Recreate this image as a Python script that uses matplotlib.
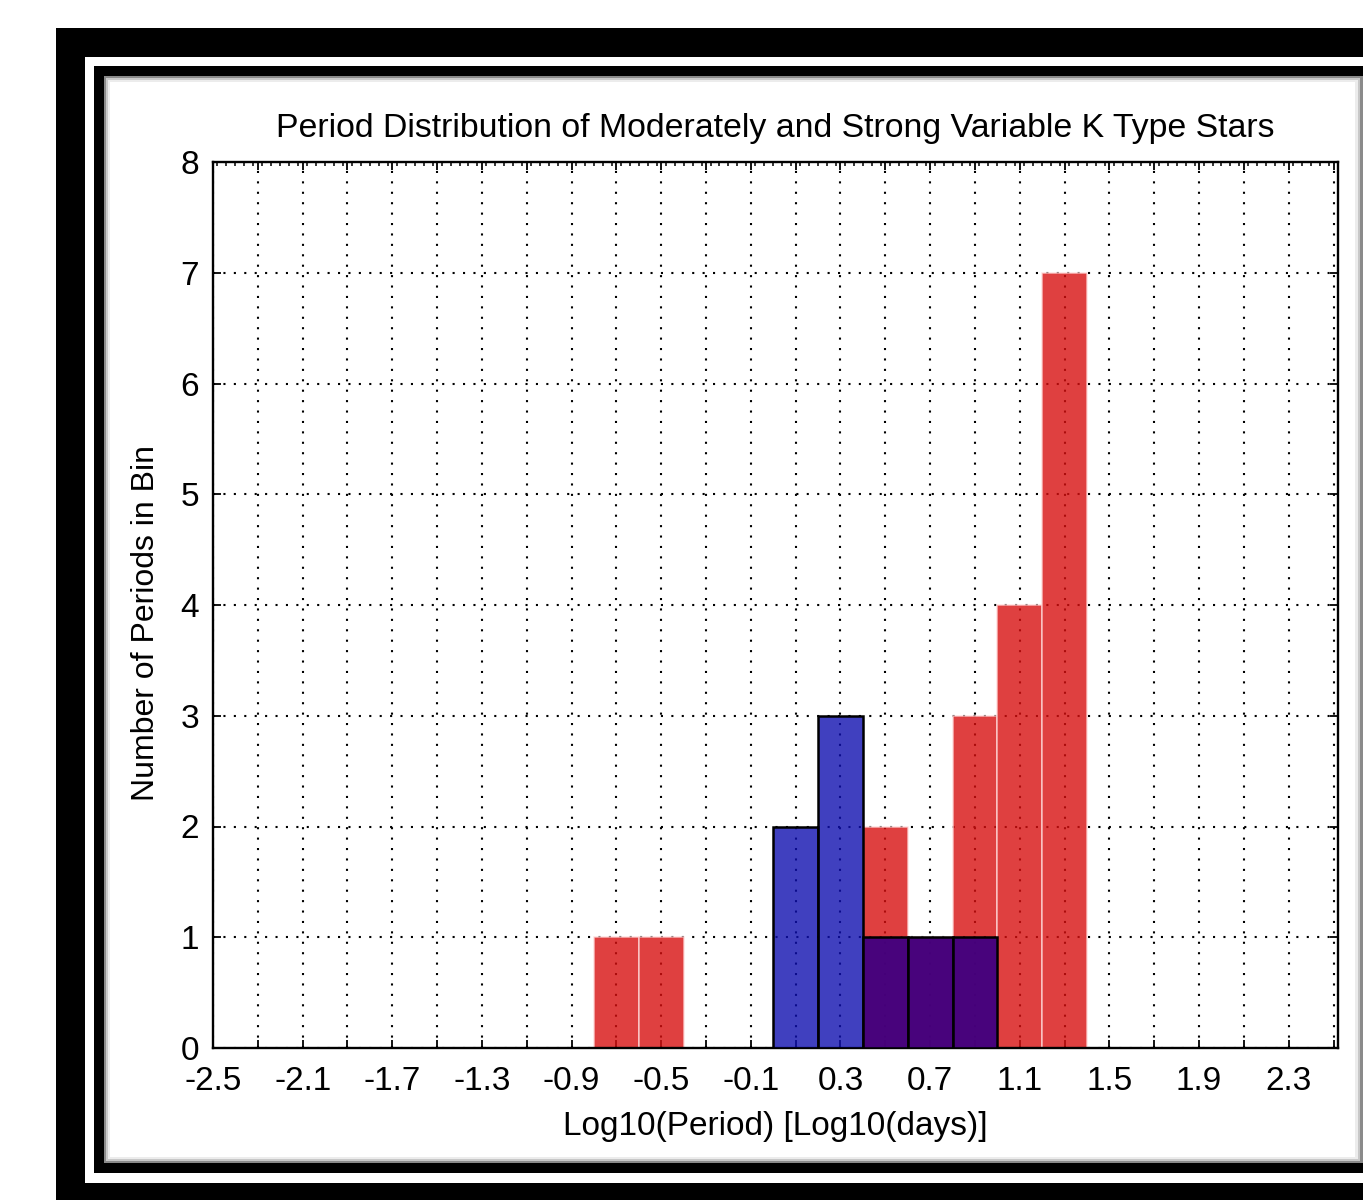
import matplotlib
matplotlib.use("Agg")
import matplotlib.pyplot as plt
from matplotlib.patches import Rectangle
from matplotlib.ticker import FixedLocator, MultipleLocator
import numpy as np

# ---- data ----
bin_centers = [-0.7, -0.5, -0.3, -0.1, 0.1, 0.3, 0.5, 0.7, 0.9, 1.1, 1.3]
strong_counts = [1, 1, 0, 0, 0, 0, 2, 1, 3, 4, 7]      # red
moderate_counts = [0, 0, 0, 0, 2, 3, 1, 1, 1, 0, 0]    # blue
bin_width = 0.2
major_ticks = [round(-2.5 + 0.2 * i, 1) for i in range(26)]
tick_labels = ['-2.5', '', '-2.1', '', '-1.7', '', '-1.3', '', '-0.9', '', '-0.5', '', '-0.1', '',
               '0.3', '', '0.7', '', '1.1', '', '1.5', '', '1.9', '', '2.3', '']
y_ticks = [0, 1, 2, 3, 4, 5, 6, 7, 8]
title = 'Period Distribution of Moderately and Strong Variable K Type Stars'
xlabel = 'Log10(Period) [Log10(days)]'
ylabel = 'Number of Periods in Bin'

W, H = 1363, 1200
plt.rcParams['font.family'] = ['Liberation Sans', 'DejaVu Sans']
fig = plt.figure(figsize=(W / 100, H / 100), dpi=100, facecolor='white')

def px_rect(x0, y0, x1, y1, **kw):
    r = Rectangle((x0 / W, 1 - y1 / H), (x1 - x0) / W, (y1 - y0) / H,
                  transform=fig.transFigure, figure=fig, **kw)
    fig.patches.append(r)

# frame
px_rect(56, 28, W, H, facecolor='black', edgecolor='none', zorder=0)
px_rect(85, 57, W, 1183, facecolor='white', edgecolor='none', zorder=1)
px_rect(94, 66, W, 1173, facecolor='black', edgecolor='none', zorder=2)
px_rect(104, 76, W, 1163, facecolor='#8a8a8a', edgecolor='none', zorder=3)
px_rect(106, 78, W - 3, 1161, facecolor='#c8c8c8', edgecolor='none', zorder=4)
px_rect(108, 80, W - 5, 1159, facecolor='#ececec', edgecolor='none', zorder=5)
px_rect(110, 82, W - 8, 1157, facecolor='white', edgecolor='none', zorder=6)

ax_l, ax_r, ax_t, ax_b = 213, 1338, 162, 1048
ax = fig.add_axes([ax_l / W, 1 - ax_b / H, (ax_r - ax_l) / W, (ax_b - ax_t) / H])
ax.set_facecolor('white')
ax.set_zorder(10)

red_face = (216 / 255, 16 / 255, 16 / 255)
blue_face = (16 / 255, 16 / 255, 176 / 255)
purple_face = (64 / 255, 0 / 255, 128 / 255)

ax.bar(bin_centers, strong_counts, width=bin_width, color=red_face, alpha=0.8,
       edgecolor=(1, 0.85, 0.85), linewidth=1.1, zorder=2)

blue_x = [c for c, m in zip(bin_centers, moderate_counts) if m > 0]
blue_h = [m for m in moderate_counts if m > 0]
blue_cols = []
for c, m, s in zip(bin_centers, moderate_counts, strong_counts):
    if m > 0:
        blue_cols.append((*purple_face, 0.95) if s > 0 else (*blue_face, 0.8))
ax.bar(blue_x, blue_h, width=bin_width, color=blue_cols, edgecolor='black',
       linewidth=1.8, zorder=3)

ax.set_xlim(-2.5, 2.52)
ax.set_ylim(0, 8)
ax.xaxis.set_major_locator(FixedLocator(major_ticks))
ax.set_xticklabels(tick_labels)
ax.set_yticks(y_ticks)
ax.set_yticklabels([str(v) for v in y_ticks])

ax.grid(True, color='black', linestyle=(0, (1, 4)), linewidth=1.5, zorder=1)
ax.set_axisbelow(True)

ax.tick_params(axis='both', which='major', direction='in', length=6, width=1.3,
               top=True, right=True, labelsize=24, colors='black')
ax.tick_params(axis='x', which='major', pad=13)
ax.tick_params(axis='y', which='major', pad=10)
ax.xaxis.set_minor_locator(MultipleLocator(0.04))
ax.tick_params(axis='x', which='minor', direction='in', length=3, width=1.1,
               top=True, bottom=False)
for s in ax.spines.values():
    s.set_linewidth(1.7)
    s.set_color('black')

ax.set_title(title, fontsize=24.4, pad=18)
ax.set_xlabel(xlabel, fontsize=24, labelpad=10)
ax.set_ylabel(ylabel, fontsize=23)
ax.yaxis.set_label_coords(-0.046, 0.48)

fig.savefig('out.png', dpi=100, facecolor='white')
